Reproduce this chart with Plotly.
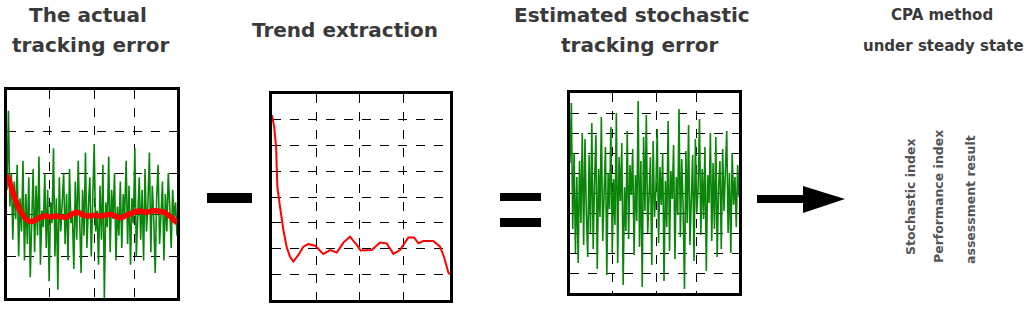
import numpy as np
import plotly.graph_objects as go

W, H = 1024, 310

# ---------------- data ----------------
# Panel 1: the actual tracking error (green) and its trend (red)
actual_error = [2.6, 4.5, 2.2, 3.0, 1.4, 2.8, 1.9, 3.2, 1.0, 2.4, 1.6, 3.3, 0.9, 2.5, 1.3, 2.9,
                0.5, 2.2, 3.1, 1.1, 2.7, 1.5, 3.4, 0.8, 2.1, 1.7, 3.0, 1.2, 2.6, 0.4, 2.3, 1.8,
                3.6, 1.0, 2.4, 0.2, 2.9, 1.6, 2.2, 3.0, 1.3, 2.5, 0.9, 3.1, 1.8, 2.0, 0.7, 2.8,
                1.4, 3.3, 1.9, 0.6, 2.6, 1.5, 3.5, 1.2, 2.2, 2.9, 1.0, 2.4, 3.7, 1.6, 2.1, 0.8,
                2.7, 1.4, 3.2, 0.0, 2.3, 1.7, 3.4, 1.1, 2.6, 1.9, 3.0, 0.9, 2.2, 1.5, 2.8, 1.2,
                2.5, 2.0, 3.3, 1.3, 2.7, 0.8, 2.4, 1.8, 3.6, 1.0, 2.1, 2.9, 1.4, 2.6, 0.9, 3.1,
                1.6, 2.3, 3.5, 1.1, 2.7, 1.9, 0.6, 2.4, 3.2, 1.3, 2.0, 2.8, 0.9, 2.5, 1.6, 3.0,
                2.2, 1.2, 2.6, 1.9, 2.3, 1.5]
actual_trend = [2.95, 2.75, 2.5, 2.3, 2.12, 2.0, 1.9, 1.85, 1.84, 1.87, 1.92, 1.95, 1.97, 1.96,
                1.95, 1.96, 1.97, 1.95, 1.94, 1.95, 1.98, 2.03, 2.06, 2.05, 2.0, 1.98, 1.97, 1.98,
                1.99, 1.98, 1.97, 1.99, 2.0, 2.01, 1.98, 1.95, 1.93, 1.95, 1.99, 2.02, 2.05, 2.08,
                2.09, 2.08, 2.06, 2.07, 2.09, 2.1, 2.09, 2.08, 2.06, 2.0, 1.95, 1.88, 1.8]

# Panel 2: trend extraction
trend_x = [0, 1.2, 2.3, 3.0, 4.5, 6.4, 8.2, 10.1, 12.0, 14.8, 17.6, 20.4, 24.2, 28.8, 32.6,
           36.4, 40.1, 43.8, 47.6, 49.8, 56.0, 60.7, 64.4, 68.2, 71.9, 76.6, 79.8, 82.2, 85.0,
           90.6, 94.4, 96.6, 99.1, 100]
trend_y = [7.18, 6.73, 5.95, 4.4, 3.62, 2.72, 2.07, 1.68, 1.49, 1.75, 2.07, 2.17, 2.11, 1.79,
           1.94, 1.84, 2.23, 2.46, 2.14, 1.92, 1.94, 2.23, 2.2, 1.79, 1.94, 2.43, 2.43, 2.2, 2.29,
           2.29, 2.07, 1.68, 1.06, 1.0]

# Panel 3: estimated stochastic tracking error
stochastic_error = [6.5, 9.5, 3.2, 7.0, 2.0, 5.8, 1.5, 6.6, 3.5, 8.0, 2.4, 7.7, 4.0, 1.8, 6.9,
                    3.0, 8.5, 2.2, 5.5, 7.9, 1.2, 6.2, 3.8, 8.8, 2.6, 5.0, 7.3, 0.9, 6.0, 4.2,
                    8.3, 2.0, 5.7, 3.4, 9.0, 1.5, 6.8, 4.6, 7.5, 0.4, 5.3, 3.1, 8.1, 2.7, 6.4,
                    4.9, 7.2, 1.9, 5.9, 3.6, 9.6, 2.3, 6.6, 0.3, 7.8, 4.1, 8.9, 3.0, 5.4, 6.8,
                    1.4, 7.6, 3.8, 5.1, 8.2, 2.5, 6.3, 4.4, 7.0, 0.6, 5.6, 3.3, 8.6, 2.1, 6.1,
                    4.7, 7.4, 1.7, 5.8, 3.9, 9.2, 2.8, 6.7, 4.3, 0.2, 7.1, 3.5, 8.4, 2.4, 5.5,
                    6.9, 1.6, 7.7, 4.0, 5.2, 8.7, 2.9, 6.2, 3.7, 7.3, 1.1, 5.9, 4.5, 8.0, 2.6,
                    6.5, 3.2, 7.8, 1.8, 5.3, 6.6, 2.2, 7.2, 4.1, 5.7, 8.1, 3.0, 6.0, 2.0, 7.0,
                    4.4, 5.8, 3.3, 6.4, 4.8]

titles_1 = ["The actual", "tracking error"]
title_2 = "Trend extraction"
titles_3 = ["Estimated stochastic", "tracking error"]
titles_4 = ["CPA method", "under steady state"]
side_text = ["Stochastic index", "Performance index", "assessment result"]

# ---------------- helpers ----------------
def px(x):
    return x / W

def py(y):
    return 1 - y / H

GREEN = "#0a850a"
RED = "#ff0000"

fig = go.Figure()

x1 = np.linspace(0, 4, len(actual_error))
xt1 = np.linspace(0, 4, len(actual_trend))
fig.add_trace(go.Scatter(x=x1, y=actual_error, mode="lines",
                         line=dict(color=GREEN, width=1.6), xaxis="x", yaxis="y"))
fig.add_trace(go.Scatter(x=xt1, y=actual_trend, mode="lines", line_shape="spline",
                         line=dict(color=RED, width=5.5), xaxis="x", yaxis="y"))

fig.add_trace(go.Scatter(x=trend_x, y=trend_y, mode="lines",
                         line=dict(color=RED, width=2), xaxis="x2", yaxis="y2"))

x3 = np.linspace(0, 4, len(stochastic_error))
fig.add_trace(go.Scatter(x=x3, y=stochastic_error, mode="lines",
                         line=dict(color=GREEN, width=1.6), xaxis="x3", yaxis="y3"))

def axis(domain, rng, tickvals, anchor):
    return dict(domain=domain, range=rng, tickvals=tickvals, showticklabels=False,
                ticks="", showgrid=True, gridcolor="black", griddash="dash", gridwidth=1.3,
                zeroline=False, showline=True, linecolor="black", linewidth=2.5,
                mirror=True, anchor=anchor, fixedrange=True)

fig.update_layout(
    width=W, height=H, margin=dict(l=0, r=0, t=0, b=0),
    paper_bgcolor="white", plot_bgcolor="white", showlegend=False,
    xaxis=axis([px(7), px(177)], [0, 4], [1, 2.05, 3], "y"),
    yaxis=axis([py(298), py(90)], [0, 5], [1, 2, 3, 4], "x"),
    xaxis2=axis([px(272), px(450)], [0, 100], [25, 49, 74], "y2"),
    yaxis2=axis([py(300), py(94)], [0, 8], [1, 2, 3, 4, 5, 6, 7], "x2"),
    xaxis3=axis([px(570), px(739)], [0, 4], [1, 2.04, 3], "y3"),
    yaxis3=axis([py(293), py(93)], [0, 10], [1, 2, 3, 4, 5, 6, 7, 8, 9], "x3"),
)

shapes = []
def rect(x0, y0, x1_, y1):
    shapes.append(dict(type="rect", xref="paper", yref="paper",
                       x0=px(x0), x1=px(x1_), y0=py(y1), y1=py(y0),
                       fillcolor="black", line=dict(width=0)))

rect(207, 193, 252, 203)        # minus
rect(500, 193, 541, 201)        # equals (top)
rect(500, 218, 541, 227)        # equals (bottom)
rect(757, 195, 805, 203)        # arrow shaft
shapes.append(dict(type="path", xref="paper", yref="paper",
                   path=f"M {px(803)} {py(186)} L {px(845)} {py(199)} L {px(803)} {py(213)} Z",
                   fillcolor="black", line=dict(width=0)))
fig.update_layout(shapes=shapes)

TFONT = dict(family="DejaVu Sans", size=20, color="#3a3a3a")
anns = []
def text(t, x, y, font=TFONT, angle=0):
    anns.append(dict(text=f"<b>{t}</b>", x=px(x), y=py(y), xref="paper", yref="paper",
                     showarrow=False, xanchor="center", yanchor="middle", font=font,
                     textangle=angle))

text(titles_1[0], 88, 15)
text(titles_1[1], 90, 45)
text(title_2, 345, 30)
text(titles_3[0], 632, 15)
text(titles_3[1], 639, 45)
SF = dict(family="DejaVu Sans", size=15, color="#3a3a3a")
text(titles_4[0], 942, 15, SF)
text(titles_4[1], 943, 46, SF)
RF = dict(family="DejaVu Sans", size=12.5, color="#555555")
text(side_text[0], 910, 197, RF, -90)
text(side_text[1], 938, 197, RF, -90)
text(side_text[2], 970, 200, RF, -90)
fig.update_layout(annotations=anns)

fig.write_html("out.html", config={"displayModeBar": False},
               post_script="document.body.style.margin='0';")
